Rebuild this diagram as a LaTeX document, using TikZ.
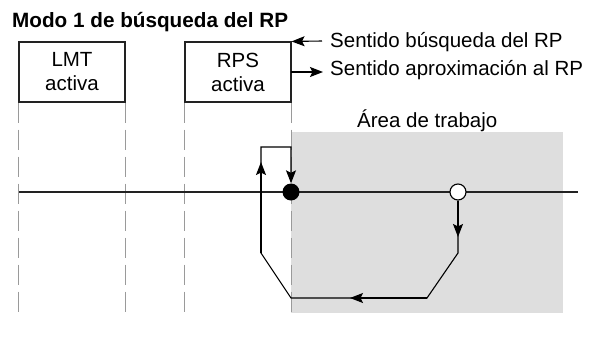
\documentclass[tikz,border=0pt]{standalone}
\usepackage{fontspec}
\setmainfont{Liberation Sans}
\usetikzlibrary{arrows.meta}
\definecolor{areagrey}{HTML}{DEDEDE}
\definecolor{dashgrey}{HTML}{9A9A9A}
\definecolor{linedark}{HTML}{222222}
\tikzset{
  txt/.style={font=\fontsize{20.5}{24}\selectfont, inner sep=0pt},
  boxnode/.style={draw=linedark, line width=1.1pt, minimum width=106pt, minimum height=60pt, inner sep=0pt, align=center, font=\fontsize{20.5}{24}\selectfont},
  guide/.style={draw=dashgrey, line width=1.1pt, dash pattern=on 20pt off 7pt},
  pathline/.style={draw=black, line width=1.1pt, line join=miter},
  arr/.style={-{Stealth[length=13pt,width=10pt,inset=2.5pt]}},
}
\begin{document}
\begin{tikzpicture}[x=1pt,y=-1pt]
\useasboundingbox (0,0) rectangle (590,338);
% working area
\fill[areagrey] (291,132) rectangle (563,313);
% title
\node[txt, anchor=base west, font=\fontsize{20.7}{24}\selectfont\bfseries] (title) at (12,27) {Modo 1 de búsqueda del RP};
% boxes
\node[boxnode] (lmt) at (72,72) {LMT\\activa};
\node[boxnode] (rps) at (238,72) {RPS\\activa};
% guide lines
\draw[guide] (lmt.south west) -- ++(0,211);
\draw[guide] (lmt.south east) -- ++(0,211);
\draw[guide] (rps.south west) -- ++(0,211);
\draw[guide] (rps.south east) -- ++(0,211);
% axis
\coordinate (axl) at (19,192);
\coordinate (axr) at (578,192);
\draw[draw=linedark, line width=1.1pt] (axl) -- (axr);
% direction legend
\coordinate (s1) at (322,41);
\coordinate (s2a) at (291,72);
\coordinate (s2b) at (323,72);
\draw[pathline, arr] (s1) -- (rps.north east);
\draw[pathline, arr] (s2a) -- (s2b);
\node[txt, anchor=base west] (leg1) at (330,47) {Sentido búsqueda del RP};
\node[txt, anchor=base west] (leg2) at (330,75) {Sentido aproximación al RP};
\node[txt, anchor=base west] (area) at (357,127) {Área de trabajo};
% points
\node[circle, fill=black, minimum size=17pt, inner sep=0pt] (rp) at (291,192) {};
\node[circle, draw=black, fill=white, line width=1.1pt, minimum size=16pt, inner sep=0pt] (start) at (458,192) {};
% search path
\coordinate (p1) at (458,253);
\coordinate (p2) at (427,298);
\coordinate (p3) at (291,298);
\coordinate (p4) at (261,253);
\coordinate (p5) at (261,147);
\coordinate (p6) at (291,147);
\draw[pathline, arr] (start.south) -- (p1) -- (p2) -- (p3) -- (p4) -- (p5) -- (p6) -- (rp.north);
% mid arrows
\draw[pathline, arr] (start.south) -- (458,237);
\draw[pathline, arr] (p2) -- (350,298);
\draw[pathline, arr] (p4) -- (261,162);
\end{tikzpicture}
\end{document}
